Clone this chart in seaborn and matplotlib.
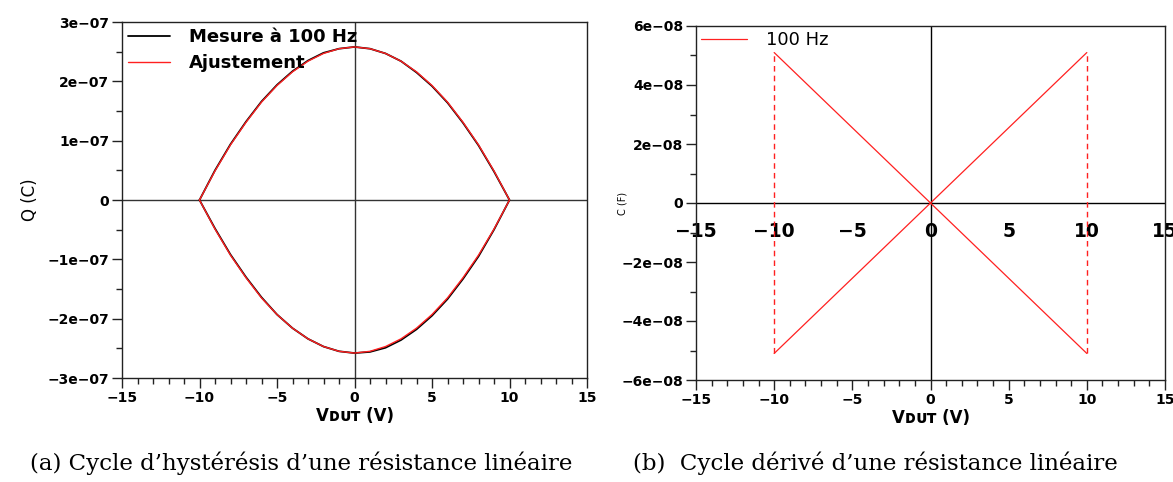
import numpy as np
import pandas as pd
import matplotlib
matplotlib.use("Agg")
import matplotlib.pyplot as plt
import seaborn as sns
from matplotlib.ticker import MultipleLocator, FuncFormatter

# tension appliquee (V), un point par volt
v_pts = [-10, -9, -8, -7, -6, -5, -4, -3, -2, -1, 0, 1, 2, 3, 4, 5, 6, 7, 8, 9, 10]

# charge Q (C), branche haute et branche basse (de -10 a 10)
q_up_fit = [0.0, 0.49e-7, 0.93e-7, 1.31e-7, 1.65e-7, 1.93e-7, 2.16e-7, 2.34e-7, 2.47e-7, 2.55e-7,
            2.58e-7, 2.55e-7, 2.47e-7, 2.34e-7, 2.16e-7, 1.93e-7, 1.65e-7, 1.31e-7, 0.93e-7, 0.49e-7, 0.0]
q_low_fit = [0.0, -0.49e-7, -0.93e-7, -1.31e-7, -1.65e-7, -1.93e-7, -2.16e-7, -2.34e-7, -2.47e-7, -2.55e-7,
             -2.58e-7, -2.55e-7, -2.47e-7, -2.34e-7, -2.16e-7, -1.93e-7, -1.65e-7, -1.31e-7, -0.93e-7, -0.49e-7, 0.0]
q_up_meas = [0.0, 0.50e-7, 0.94e-7, 1.32e-7, 1.66e-7, 1.94e-7, 2.17e-7, 2.35e-7, 2.48e-7, 2.55e-7,
             2.58e-7, 2.55e-7, 2.47e-7, 2.34e-7, 2.15e-7, 1.92e-7, 1.64e-7, 1.30e-7, 0.92e-7, 0.48e-7, 0.0]
q_low_meas = [0.0, -0.48e-7, -0.92e-7, -1.30e-7, -1.64e-7, -1.93e-7, -2.16e-7, -2.34e-7, -2.47e-7, -2.55e-7,
              -2.58e-7, -2.56e-7, -2.49e-7, -2.36e-7, -2.18e-7, -1.95e-7, -1.67e-7, -1.33e-7, -0.95e-7, -0.50e-7, 0.0]

# capacite derivee C (F)
v_c = [-10, -5, 0, 5, 10]
c_fall = [5.1e-8, 2.55e-8, 0.0, -2.55e-8, -5.1e-8]
c_rise = [-5.1e-8, -2.55e-8, 0.0, 2.55e-8, 5.1e-8]
v_jump = [-10, 10]
c_jump = [-5.1e-8, 5.1e-8]

sns.set_theme(style="white")
plt.rcParams['font.family'] = ['DejaVu Sans']
plt.rcParams['axes.edgecolor'] = '#222222'
plt.rcParams['axes.linewidth'] = 1.0
plt.rcParams['text.color'] = 'black'
plt.rcParams['axes.labelcolor'] = 'black'
plt.rcParams['xtick.color'] = 'black'
plt.rcParams['ytick.color'] = 'black'

fig = plt.figure(figsize=(11.73, 4.82), dpi=100)
ax1 = fig.add_axes([122 / 1173, 104 / 482, 465 / 1173, 356 / 482])
ax2 = fig.add_axes([696 / 1173, 102 / 482, 469 / 1173, 354 / 482])


def sci(val, pos):
    if abs(val) < 1e-15:
        return "0"
    return ("%.0e" % val).replace("-", "\u2212")


def plain(val, pos):
    return ("%d" % round(val)).replace("-", "\u2212")


# --- (a) cycle Q(V)
loop_meas = pd.DataFrame({"V": v_pts + v_pts[::-1], "Q": q_up_meas + q_low_meas[::-1]})
loop_fit = pd.DataFrame({"V": v_pts + v_pts[::-1], "Q": q_up_fit + q_low_fit[::-1]})

ax1.axhline(0, color='#333333', lw=1.0, zorder=1)
ax1.axvline(0, color='#333333', lw=1.0, zorder=1)
sns.lineplot(data=loop_meas, x="V", y="Q", sort=False, estimator=None, color="black",
             lw=1.3, label="Mesure à 100 Hz", ax=ax1)
sns.lineplot(data=loop_fit, x="V", y="Q", sort=False, estimator=None, color="#ff2020",
             lw=1.0, label="Ajustement", ax=ax1)
ax1.set_xlim(-15, 15)
ax1.set_ylim(-3e-7, 3e-7)
ax1.yaxis.set_major_locator(MultipleLocator(1e-7))
ax1.yaxis.set_minor_locator(MultipleLocator(0.5e-7))
ax1.yaxis.set_major_formatter(FuncFormatter(sci))
ax1.set_ylabel("Q (C)", fontsize=12, labelpad=6)
ax1.legend(loc="upper left", frameon=False, prop={'weight': 'bold', 'size': 13},
           handlelength=2.3, handletextpad=1.05, labelspacing=0.45,
           borderaxespad=0.0, borderpad=0.35, bbox_to_anchor=(0.0, 1.0))

# --- (b) cycle derive C(V)
ax2.axhline(0, color='black', lw=1.0, zorder=1)
ax2.axvline(0, color='black', lw=1.0, zorder=1)
sns.lineplot(x=v_c, y=c_fall, sort=False, estimator=None, color="#ff2020", lw=0.9,
             label="100 Hz", ax=ax2)
sns.lineplot(x=v_c, y=c_rise, sort=False, estimator=None, color="#ff2020", lw=0.9, ax=ax2)
for vj in v_jump:
    sns.lineplot(x=[vj, vj], y=c_jump, sort=False, estimator=None, color="#ff2020",
                 lw=1.0, ls=(0, (4, 3)), ax=ax2)
ax2.set_xlim(-15, 15)
ax2.set_ylim(-6e-8, 6e-8)
ax2.yaxis.set_major_locator(MultipleLocator(2e-8))
ax2.yaxis.set_minor_locator(MultipleLocator(1e-8))
ax2.yaxis.set_major_formatter(FuncFormatter(sci))
ax2.set_ylabel("C (F)", fontsize=7, labelpad=-4)
ax2.legend(loc="upper left", frameon=False, prop={'size': 13},
           handlelength=2.5, handletextpad=1.1,
           borderaxespad=0.0, borderpad=0.3, bbox_to_anchor=(0.0, 1.0))

# axe secondaire au niveau de C = 0
sec = ax2.secondary_xaxis(0, transform=ax2.transData)
sec.xaxis.set_major_locator(MultipleLocator(5))
sec.xaxis.set_major_formatter(FuncFormatter(plain))
sec.tick_params(length=0, labelsize=13.5, pad=14, labelcolor='black')
for lab in sec.get_xticklabels():
    lab.set_fontweight('bold')
for sp in sec.spines.values():
    sp.set_visible(False)

for ax in (ax1, ax2):
    ax.xaxis.set_major_locator(MultipleLocator(5))
    ax.xaxis.set_minor_locator(MultipleLocator(1))
    ax.xaxis.set_major_formatter(FuncFormatter(plain))
    ax.tick_params(which='major', direction='out', length=7, width=1, color='#222222',
                   labelsize=10, bottom=True, left=True, pad=2)
    ax.tick_params(which='minor', direction='out', length=4, width=1, color='#222222',
                   bottom=True, left=True)
    for lab in ax.get_xticklabels() + ax.get_yticklabels():
        lab.set_fontweight('bold')
    ax.set_xlabel("V\u1d05\u1d1c\u1d1b (V)", fontsize=12, fontweight='bold', labelpad=2)
    for sp in ax.spines.values():
        sp.set_visible(True)

fig.text(301 / 1173, 1 - 463 / 482, "(a) Cycle d\u2019hystérésis d\u2019une résistance linéaire",
         family='DejaVu Serif', fontsize=16.5, ha='center', va='center')
fig.text(875 / 1173, 1 - 463 / 482, "(b)  Cycle dérivé d\u2019une résistance linéaire",
         family='DejaVu Serif', fontsize=16.5, ha='center', va='center')

fig.savefig("out.png", dpi=100)
